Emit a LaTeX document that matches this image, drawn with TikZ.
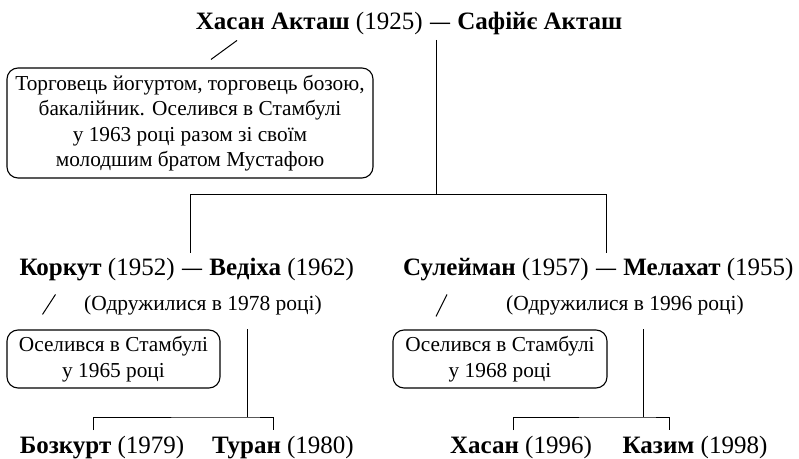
\documentclass[tikz,border=0pt]{standalone}
\usepackage{fontspec}
\setmainfont{Liberation Serif}
\usetikzlibrary{positioning}
\begin{document}
\begin{tikzpicture}[
	x=1pt, y=1pt,
	person/.style = {font=\fontsize{25}{30}\selectfont, inner sep=0pt, anchor=base},
	wed/.style = {person, font=\fontsize{20}{30}\selectfont\bfseries},
	married/.style = {font=\fontsize{21.5}{26}\selectfont, inner sep=0pt},
	note/.style = {draw, line width=1.1pt, rounded corners=11pt, align=center, font=\fontsize{21.3}{25.5}\selectfont},
	link/.style = {line width=1pt},
]
	\useasboundingbox (0,0) rectangle (799,458);

	\node [wed] (d0) at (440,428) {\raisebox{1pt}{—}};
	\node [person, base left=7pt of d0] (hasan) {\textbf{Хасан Акташ} (1925)};
	\node [person, base right=7pt of d0] (safiye) {\textbf{Сафійє Акташ}};
	\node [note, minimum width=366, minimum height=110] (n0) at (190,335) {Торговець йогуртом, торговець бозою,\\ бакалійник. Оселився в Стамбулі\\ у 1963 році разом зі своїм\\ молодшим братом Мустафою};

	\node [wed] (d1) at (192,183) {\raisebox{1pt}{—}};
	\node [person, base left=7pt of d1] (korkut) {\textbf{Коркут} (1952)};
	\node [person, base right=7pt of d1] (vediha) {\textbf{Ведіха} (1962)};
	\node [wed] (d2) at (606,183) {\raisebox{1pt}{—}};
	\node [person, base left=7pt of d2] (suleyman) {\textbf{Сулейман} (1957)};
	\node [person, base right=7pt of d2] (melahat) {\textbf{Мелахат} (1955)};
	\node [married] (m1) at (203,153) {(Одружилися в 1978 році)};
	\node [married] (m2) at (625,153) {(Одружилися в 1996 році)};
	\node [note, minimum width=213, minimum height=58] (n1) at (113.5,99) {Оселився в Стамбулі\\ у 1965 році};
	\node [note, minimum width=214, minimum height=58] (n2) at (500,99) {Оселився в Стамбулі\\ у 1968 році};

	\node [person] (bozkurt) at (102,5) {\textbf{Бозкурт} (1979)};
	\node [person] (turan) at (283,5) {\textbf{Туран} (1980)};
	\node [person] (hasan2) at (521,5) {\textbf{Хасан} (1996)};
	\node [person] (kazim) at (695,5) {\textbf{Казим} (1998)};

	% parents to sons
	\draw [link] ([xshift=-4,yshift=-10]d0.base) -- ++(0,-155) coordinate (fork0) -| ([xshift=-2,yshift=22]d1.base);
	\draw [link] (fork0) -| ([yshift=22]d2.base);

	% sons to grandsons
	\coordinate (fork1) at (247,41);
	\coordinate (fork2) at (643,41);
	\draw [link] (fork1 |- n1.north) -- (fork1);
	\draw [link] (fork2 |- n2.north) -- (fork2);
	\draw [link] ([xshift=-9,yshift=23]bozkurt.base) |- (fork1) -| ([xshift=-10,yshift=23]turan.base);
	\draw [link] ([xshift=-8,yshift=23]hasan2.base) |- (fork2) -| ([xshift=-26,yshift=23]kazim.base);

	\foreach \nt/\fx/\fy/\tx/\ty in {n0/47/27/21/8, n1/-58/35/-71/15, n2/-53/35/-64/13}
		\draw [link] ([shift={(\fx,\fy)}]\nt.north) -- ([shift={(\tx,\ty)}]\nt.north);
\end{tikzpicture}
\end{document}
